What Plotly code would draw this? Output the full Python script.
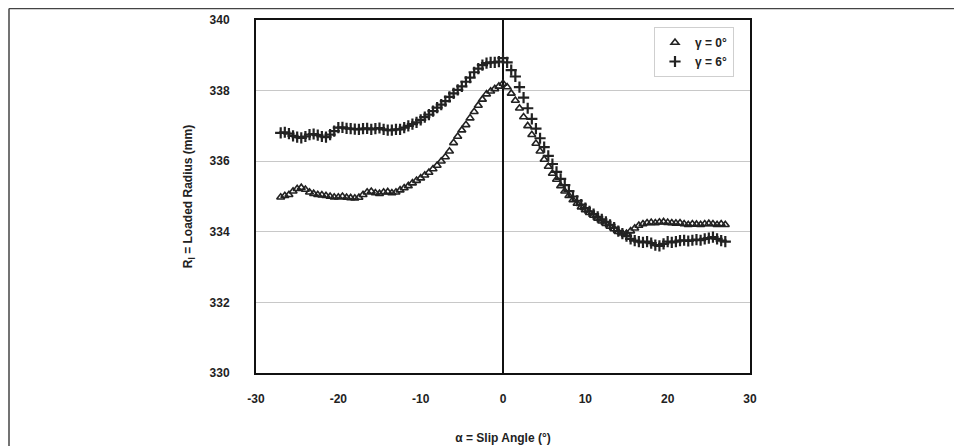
import plotly.graph_objects as go

slip_angle = [i * 0.5 for i in range(-54, 55)]

radius_gamma6 = [
    336.80, 336.82, 336.78, 336.72, 336.68, 336.66, 336.70, 336.75, 336.77, 336.74,
    336.70, 336.68, 336.75, 336.85, 336.95, 336.96, 336.93, 336.92, 336.91, 336.90,
    336.92, 336.93, 336.90, 336.92, 336.94, 336.90, 336.88, 336.88, 336.90, 336.90,
    336.95, 337.00, 337.05, 337.10, 337.17, 337.25, 337.32, 337.42, 337.52, 337.60,
    337.70, 337.82, 337.92, 338.02, 338.12, 338.25, 338.37, 338.52, 338.62, 338.72,
    338.78, 338.80, 338.80, 338.82, 338.92, 338.80, 338.58, 338.40, 338.10, 337.80,
    337.50, 337.20, 336.92, 336.65, 336.40, 336.15, 335.92, 335.70, 335.50, 335.32,
    335.15, 335.00, 334.88, 334.77, 334.67, 334.58, 334.50, 334.42, 334.35, 334.28,
    334.20, 334.12, 334.02, 333.95, 333.88, 333.80, 333.75, 333.72, 333.70, 333.72,
    333.68, 333.62, 333.60, 333.66, 333.72, 333.70, 333.72, 333.75, 333.76, 333.74,
    333.76, 333.78, 333.76, 333.80, 333.82, 333.85, 333.80, 333.75, 333.72,
]

radius_gamma0 = [
    334.98, 335.02, 335.05, 335.15, 335.22, 335.25, 335.20, 335.12, 335.08, 335.05,
    335.04, 335.02, 335.00, 334.98, 334.98, 335.00, 334.97, 334.96, 334.95, 334.97,
    335.05, 335.12, 335.14, 335.10, 335.08, 335.12, 335.13, 335.10, 335.12, 335.18,
    335.24, 335.30, 335.38, 335.45, 335.52, 335.60, 335.68, 335.78, 335.88, 336.00,
    336.12, 336.28, 336.52, 336.70, 336.88, 337.03, 337.22, 337.40, 337.58, 337.75,
    337.90, 337.98, 338.05, 338.12, 338.20, 338.10, 337.92, 337.72, 337.50, 337.25,
    337.00, 336.75, 336.50, 336.28, 336.05, 335.85, 335.65, 335.48, 335.30, 335.15,
    335.02, 334.90, 334.80, 334.70, 334.62, 334.54, 334.46, 334.38, 334.30, 334.23,
    334.15, 334.08, 334.00, 333.96, 333.95, 334.02, 334.10, 334.18, 334.22, 334.25,
    334.26, 334.25, 334.27, 334.28, 334.26, 334.25, 334.24, 334.25, 334.22, 334.20,
    334.22, 334.21, 334.20, 334.22, 334.23, 334.22, 334.20, 334.22, 334.20,
]

y_ticks = [330, 332, 334, 336, 338, 340]
x_ticks = [-30, -20, -10, 0, 10, 20, 30]

FAM = "Liberation Sans, Arial, sans-serif"
bold = dict(family=FAM, size=12, color="#222", weight="bold")

fig = go.Figure()
fig.add_trace(go.Scatter(
    x=slip_angle, y=radius_gamma0, mode="markers", name="γ = 0°",
    marker=dict(symbol="triangle-up-open", size=7, color="#222",
                line=dict(width=1.6, color="#222")),
))
fig.add_trace(go.Scatter(
    x=slip_angle, y=radius_gamma6, mode="markers", name="γ = 6°",
    marker=dict(symbol="cross-thin-open", size=8, color="#222",
                line=dict(width=2.2, color="#222")),
))

fig.update_layout(
    width=962, height=446,
    margin=dict(l=248, r=220, t=12, b=81, autoexpand=False),
    paper_bgcolor="white", plot_bgcolor="white",
    font=bold,
    showlegend=True,
    legend=dict(
        x=1 - 16 / 494, y=1 - 7 / 353, xanchor="right", yanchor="top",
        bgcolor="white", bordercolor="#cfcfcf", borderwidth=1,
        font=dict(family=FAM, size=12, color="#222", weight="bold"),
        itemwidth=30, tracegroupgap=2,
    ),
    xaxis=dict(
        range=[-30, 30], tickvals=x_ticks, ticktext=[str(v) for v in x_ticks],
        showgrid=False, zeroline=True, zerolinecolor="#111", zerolinewidth=1.5,
        showline=True, linecolor="#111", linewidth=2, mirror=True,
        ticks="outside", ticklen=14, tickcolor="rgba(0,0,0,0)",
        tickfont=bold, automargin=False,
        title=dict(text="α = Slip Angle (°)", standoff=28, font=bold),
        fixedrange=True,
    ),
    yaxis=dict(
        range=[330, 340], tickvals=y_ticks, ticktext=[str(v) for v in y_ticks],
        showgrid=True, gridcolor="#c8c8c8", gridwidth=1, zeroline=False,
        showline=True, linecolor="#111", linewidth=2, mirror=True,
        ticks="outside", ticklen=22, tickcolor="rgba(0,0,0,0)",
        tickfont=bold, automargin=False,
        title=dict(text="R<sub>l</sub> = Loaded Radius (mm)", standoff=14, font=bold),
        fixedrange=True,
    ),
)

# page frame lines (screen pixel positions mapped to plot-relative paper coords)
pw, ph = 494.0, 353.0
def px_x(v):
    return (v - 256) / pw
def px_y(v):
    return (373 - v) / ph
frame = dict(type="line", xref="paper", yref="paper", line=dict(color="#444", width=1.5))
fig.add_shape(**frame, x0=px_x(9), x1=px_x(955), y0=px_y(8.5), y1=px_y(8.5))
fig.add_shape(**frame, x0=px_x(9), x1=px_x(9), y0=px_y(8.5), y1=px_y(460))
fig.add_shape(**frame, x0=px_x(955), x1=px_x(955), y0=px_y(8.5), y1=px_y(460))

fig.write_html("out.html")
